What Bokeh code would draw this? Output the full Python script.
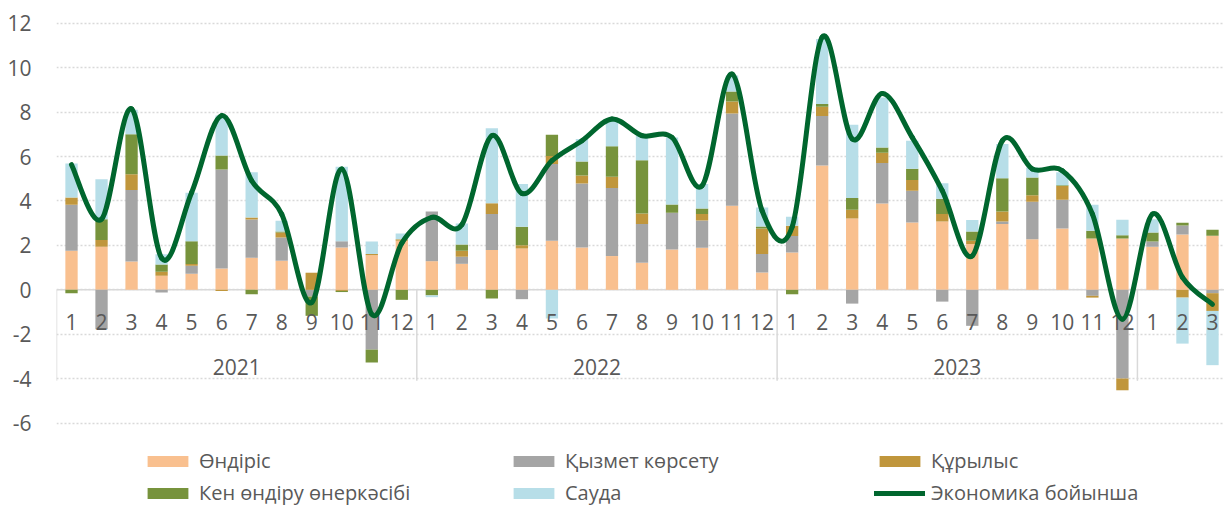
import numpy as np
from bokeh.plotting import figure
from bokeh.models import Range1d, FixedTicker, Span, Legend, LegendItem, ColumnDataSource
from bokeh.core.properties import value
from bokeh.embed import file_html
from bokeh.resources import INLINE

# ---------------- data ----------------
years = ["2021"] * 12 + ["2022"] * 12 + ["2023"] * 12 + ["2024"] * 3
months = [str(m) for m in range(1, 13)] * 3 + ["1", "2", "3"]
year_labels = ["2021", "2022", "2023"]

production = [1.76, 1.94, 1.28, 0.63, 0.72, 0.96, 1.44, 1.31, 0.00, 1.91, 1.56, 2.21,
              1.29, 1.17, 1.79, 1.86, 2.21, 1.91, 1.52, 1.22, 1.82, 1.89, 3.78, 0.78,
              1.68, 5.60, 3.21, 3.89, 3.03, 3.08, 2.06, 2.96, 2.28, 2.76, 2.31, 2.31,
              1.94, 2.49, 2.43]
services = [2.07, -1.77, 3.21, -0.12, 0.36, 4.45, 1.73, 1.05, -0.30, 0.28, -2.69, 0.00,
            2.24, 0.32, 1.62, -0.42, 3.45, 2.88, 3.06, 1.74, 1.65, 1.23, 4.16, 0.83,
            0.74, 2.22, -0.62, 1.82, 1.43, -0.53, -1.62, 0.12, 1.68, 1.29, -0.27, -3.99,
            0.24, 0.41, -0.15]
construction = [0.33, 0.30, 0.71, 0.18, 0.08, -0.05, 0.09, 0.22, 0.77, -0.05, 0.05, 0.07,
                0.00, 0.27, 0.49, 0.15, 0.36, 0.35, 0.51, 0.48, 0.00, 0.29, 0.54, 1.15,
                0.46, 0.42, 0.39, 0.46, 0.48, 0.33, 0.15, 0.45, 0.30, 0.62, -0.08, -0.53,
                0.00, -0.35, -0.80]
mining = [-0.15, 0.94, 1.80, 0.33, 1.03, 0.63, -0.20, 0.05, -0.87, -0.05, -0.58, -0.45,
          -0.25, 0.28, -0.39, 0.83, 0.96, 0.63, 1.37, 2.39, 0.37, 0.25, 0.45, 0.09,
          -0.20, 0.12, 0.53, 0.23, 0.51, 0.69, 0.42, 1.49, 0.80, 0.04, 0.35, 0.15,
          0.40, 0.12, 0.27]
trade = [1.53, 1.80, 1.10, 0.46, 2.18, 1.80, 2.03, 0.48, 0.00, 3.35, 0.57, 0.26,
         -0.08, 0.95, 3.37, 1.92, -1.29, 1.02, 1.15, 1.11, 3.02, 1.10, 0.71, 0.86,
         0.41, 2.93, 3.30, 2.26, 1.26, 0.70, 0.51, 1.54, 0.45, 0.58, 1.17, 0.69,
         0.60, -2.07, -2.44]
economy = [5.63, 3.18, 8.14, 1.43, 4.38, 7.84, 4.91, 3.41, -0.57, 5.44, -1.10, 2.10,
           3.26, 2.93, 6.94, 4.34, 5.81, 6.71, 7.69, 6.94, 6.86, 4.68, 9.71, 3.56,
           2.83, 11.37, 6.79, 8.84, 6.86, 4.46, 1.53, 6.71, 5.44, 5.36, 3.41, -1.32,
           3.41, 0.56, -0.65]

series_names = ["Өндіріс", "Қызмет көрсету", "Құрылыс", "Кен өндіру өнеркәсібі", "Сауда"]
line_name = "Экономика бойынша"
y_ticks = [-6, -4, -2, 0, 2, 4, 6, 8, 10, 12]

# ---------------- styles ----------------
colors = ["#F9C08F", "#A5A5A5", "#C0963C", "#77933C", "#B7DEE8"]
line_color = "#00662E"
text_color = "#595959"
grid_color = "#D9D9D9"
FONT = "Open Sans"

n = len(months)
xs = np.arange(n, dtype=float)

p = figure(width=1224, height=510, output_backend="svg", toolbar_location=None,
           x_range=Range1d(-0.5, 38.4), y_range=Range1d(-9.93, 12.21),
           x_axis_type=None, min_border_left=56, min_border_right=0,
           min_border_top=18, min_border_bottom=0)
p.outline_line_color = None
p.background_fill_color = "white"

# y axis
p.yaxis.ticker = FixedTicker(ticks=y_ticks)
p.yaxis.major_label_overrides = {t: str(t) for t in y_ticks}
p.yaxis.axis_line_color = None
p.yaxis.major_tick_line_color = None
p.yaxis.minor_tick_line_color = None
p.yaxis.major_label_standoff = 19
p.yaxis.major_label_text_font = FONT
p.yaxis.major_label_text_font_size = "21px"
p.yaxis.major_label_text_color = text_color
p.xgrid.visible = False
p.ygrid.ticker = FixedTicker(ticks=y_ticks)
p.ygrid.grid_line_color = grid_color
p.ygrid.grid_line_width = 1.5
p.ygrid.grid_line_dash = "2 2"

# zero axis line
p.add_layout(Span(location=0, dimension="width", line_color=grid_color,
                  line_width=1.5, level="underlay"))

# category group separators (multi-level axis box)
year_arr = np.array(years)
starts = [int(np.where(year_arr == y)[0][0]) for y in dict.fromkeys(years)]
p.ray(x=[s - 0.5 for s in starts], y=[0] * len(starts), length=91, length_units="screen",
      angle=-np.pi / 2, line_color=grid_color, line_width=1.5)

# stacked bars (positive and negative stacked separately)
pos_base = np.zeros(n)
neg_base = np.zeros(n)
bar_renderers = []
for vals, col in zip([production, services, construction, mining, trade], colors):
    v = np.array(vals, dtype=float)
    pos = np.clip(v, 0, None)
    neg = np.clip(v, None, 0)
    src = ColumnDataSource(dict(
        x=np.concatenate([xs, xs]),
        bottom=np.concatenate([pos_base, neg_base + neg]),
        top=np.concatenate([pos_base + pos, neg_base]),
    ))
    r = p.vbar(x="x", bottom="bottom", top="top", width=0.41, source=src,
               fill_color=col, line_color=None)
    bar_renderers.append(r)
    pos_base = pos_base + pos
    neg_base = neg_base + neg

# month labels just under the zero line
p.text(x=xs, y=np.zeros(n), text=months, y_offset=32, text_align="center",
       text_baseline="middle", text_font=value(FONT), text_font_size="21px",
       text_color=text_color)
# year labels
centers = [float(np.mean(xs[year_arr == y])) for y in year_labels]
p.text(x=centers, y=[0] * len(centers), text=year_labels, y_offset=77,
       text_align="center", text_baseline="middle", text_font=value(FONT),
       text_font_size="21px", text_color=text_color)

# smoothed economy line: cubic Bezier segments through the data points
ey = np.array(economy, dtype=float)
pts_prev = np.concatenate([[0], np.arange(n - 1)]).astype(int)
pts_next = np.concatenate([np.arange(1, n), [n - 1]]).astype(int)
i0 = np.arange(n - 1)
i1 = i0 + 1
k = 1.0 / 6.0
cx0 = xs[i0] + (xs[i1] - xs[pts_prev[i0]]) * k
cy0 = ey[i0] + (ey[i1] - ey[pts_prev[i0]]) * k
cx1 = xs[i1] - (xs[pts_next[i1]] - xs[i0]) * k
cy1 = ey[i1] - (ey[pts_next[i1]] - ey[i0]) * k
line_r = p.bezier(x0=xs[i0], y0=ey[i0], x1=xs[i1], y1=ey[i1], cx0=cx0, cy0=cy0,
                  cx1=cx1, cy1=cy1, line_color=line_color, line_width=5, line_cap="round")

items = [LegendItem(label=nm, renderers=[r]) for nm, r in zip(series_names, bar_renderers)]
items.append(LegendItem(label=line_name, renderers=[line_r]))
legend = Legend(items=items, location=(86, 4), orientation="horizontal", ncols=3,
                glyph_width=51, glyph_height=14, label_standoff=6, label_width=304,
                label_height=26, spacing=5, padding=0, margin=0,
                border_line_color=None, background_fill_alpha=0,
                label_text_font=FONT, label_text_font_size="20px",
                label_text_color=text_color)
p.add_layout(legend, "center")

open("out.html", "w").write(file_html(p, INLINE))
